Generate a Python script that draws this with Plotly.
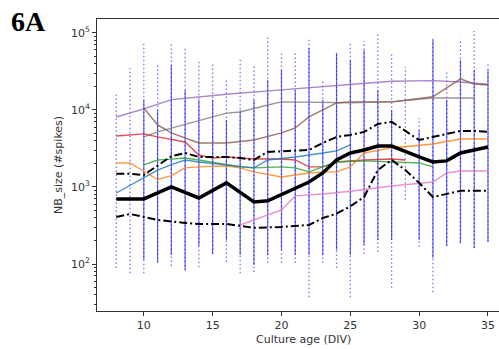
import plotly.graph_objects as go

# ---------------- data ----------------
divs = list(range(8, 36))
# per-DIV extent of the individual burst sizes (max / min) and of the dense part
col_top = [15700, 35100, 76400, 40800, 71900, 65800, 43300, 39600, 26100, 47300,
           38400, 94000, 55000, 58400, 86000, 24500, 55000, 76400, 78700, 103000,
           55000, 36100, 7870, 83600, 31200, 83600, 106000, 39600]
col_bottom = [89, 76, 76, 103, 94, 83, 91, 135, 106, 76,
              79, 103, 103, 103, 37, 103, 89, 37, 135, 143,
              49, 680, 166, 43, 171, 187, 161, 193]
dense_top = [None, None, 13500, 10000, 38400, 18200, 13500, 13500, 7420, 10000,
             13500, 24500, 33100, 18200, 63800, 13500, 55000, 44600, 60100, 18200,
             10000, None, 5500, 81000, 13500, 44600, 33100, 33100]
dense_bottom = [None, None, 113, 106, 131, 83, 171, 135, 205, 131,
                97, 131, 152, 131, 131, 131, 152, 131, 177, 205,
                205, None, 205, 120, 171, 187, 161, 193]

purple_x = [8, 10, 12, 16, 20, 25, 28, 31, 33, 35]
purple_y = [8100, 10300, 13600, 16000, 18200, 21100, 23500, 24000, 23000, 21500]
gray_x = [10, 11, 16, 17, 19, 20, 25, 28, 31, 34]
gray_y = [4460, 5180, 9100, 9400, 11600, 12700, 12400, 12700, 14300, 14300]
brown_x = [10, 11, 12, 14, 16, 18, 20, 21, 22, 24, 25, 28, 31, 33, 34, 35]
brown_y = [10600, 6400, 5030, 3720, 3720, 4070, 5030, 5830, 8100, 12300, 12700,
           12700, 14800, 25300, 21700, 21100]
red_x = [8, 10, 11, 13, 14, 15, 16, 18, 20, 21, 22, 23, 24, 26, 28, 29]
red_y = [4590, 4880, 4460, 3840, 2600, 2380, 2450, 2310, 2310, 2240, 1820, 1820,
         2110, 2240, 2310, 2240]
orange_x = [8, 9, 10, 11, 12, 13, 14, 16, 17, 18, 20, 21, 22, 23, 24, 25, 26, 28, 31, 33, 35]
orange_y = [2050, 2050, 1600, 1250, 1400, 1770, 1820, 1870, 1770, 1570, 1350, 1430,
            1520, 1570, 1570, 1820, 2760, 3210, 3610, 4200, 4200]
green_x = [10, 11, 12, 13, 14, 16, 17, 18, 20, 21, 22, 23, 24, 26, 28, 30, 31]
green_y = [1930, 2240, 2300, 2380, 2240, 1930, 1820, 1770, 1820, 1770, 1570, 1820,
           2110, 2180, 2110, 2050, 1820]
blue_x = [8, 9, 10, 11, 12, 13, 14, 16, 17, 18, 19, 21, 23, 24, 25]
blue_y = [835, 1040, 1300, 1650, 1950, 2240, 2110, 1930, 1820, 1770, 2240, 2450,
          2760, 2940, 3510]
pink_x = [17, 20, 21, 23, 25, 28, 31, 32, 33, 35]
pink_y = [321, 503, 765, 810, 880, 1030, 1160, 1520, 1610, 1610]

med_x = [8, 10, 12, 14, 16, 17, 18, 19, 20, 21, 22, 23, 24, 25, 26, 27, 28, 30, 31, 32, 33, 35]
med_y = [700, 700, 1000, 720, 1130, 850, 640, 660, 800, 970, 1160, 1520, 2240, 2760,
         3020, 3400, 3400, 2450, 2110, 2180, 2760, 3300]
upper_x = [8, 9, 10, 12, 13, 14, 16, 17, 18, 19, 20, 22, 23, 24, 25, 26, 27, 28, 30,
           31, 32, 33, 34, 35]
upper_y = [1480, 1480, 1430, 2500, 2760, 2450, 2450, 2380, 2240, 2850, 2900, 3020,
           3720, 4460, 4730, 5180, 6580, 7000, 4070, 4460, 4880, 5330, 5330, 5180]
lower_x = [8, 9, 10, 11, 13, 14, 16, 17, 18, 20, 21, 22, 23, 24, 25, 26, 27, 28, 29,
           30, 31, 32, 33, 34, 35]
lower_y = [408, 446, 408, 373, 341, 331, 331, 312, 295, 303, 312, 321, 395, 450, 560,
           740, 1660, 2240, 1660, 1130, 740, 810, 890, 890, 890]

x_ticks = [10, 15, 20, 25, 30, 35]
y_ticks = [100, 1000, 10000, 100000]
y_ticktext = ["10<sup>2</sup>", "10<sup>3</sup>", "10<sup>4</sup>", "10<sup>5</sup>"]

# ---------------- figure ----------------
fig = go.Figure()

fx, fy, dx, dy = [], [], [], []
for d, t, b, dt, db in zip(divs, col_top, col_bottom, dense_top, dense_bottom):
    fx += [d, d, None]
    fy += [b, t, None]
    if dt is not None:
        dx += [d, d, None]
        dy += [db, dt, None]

fig.add_trace(go.Scatter(x=fx, y=fy, mode="lines", hoverinfo="skip",
                         line=dict(color="rgba(30,30,255,0.6)", width=1.3, dash="1.5px,2.5px")))
fig.add_trace(go.Scatter(x=dx, y=dy, mode="lines", hoverinfo="skip",
                         line=dict(color="rgba(0,0,255,0.6)", width=1.2)))

colored = [
    (purple_x, purple_y, "#9467bd"),
    (gray_x, gray_y, "#7f7f7f"),
    (brown_x, brown_y, "#8c564b"),
    (red_x, red_y, "#d62728"),
    (orange_x, orange_y, "#ff7f0e"),
    (green_x, green_y, "#2ca02c"),
    (blue_x, blue_y, "#1f77b4"),
    (pink_x, pink_y, "#e377c2"),
]
for xs, ys, c in colored:
    fig.add_trace(go.Scatter(x=xs, y=ys, mode="lines", opacity=0.8,
                             line=dict(color=c, width=1.4)))

dashdot = "8px,3px,2px,3px"
fig.add_trace(go.Scatter(x=upper_x, y=upper_y, mode="lines",
                         line=dict(color="black", width=2, dash=dashdot)))
fig.add_trace(go.Scatter(x=lower_x, y=lower_y, mode="lines",
                         line=dict(color="black", width=2, dash=dashdot)))
fig.add_trace(go.Scatter(x=med_x, y=med_y, mode="lines",
                         line=dict(color="black", width=3.5)))

minor_vals = [m * 10 ** k for k in range(1, 6) for m in range(2, 10)]

fig.update_layout(
    width=499, height=349,
    margin=dict(l=97, r=0, t=19, b=38),
    paper_bgcolor="white", plot_bgcolor="white",
    showlegend=False,
    font=dict(family="DejaVu Sans", size=11, color="#333"),
    xaxis=dict(range=[6.6, 35.8], tickvals=x_ticks, ticks="outside", ticklen=4,
               tickcolor="#333", showline=True, linecolor="#333", linewidth=1,
               mirror=True, showgrid=False, zeroline=False),
    yaxis=dict(type="log", range=[1.39, 5.18], tickvals=y_ticks, ticktext=y_ticktext,
               ticks="outside", ticklen=4, tickcolor="#333", showline=True,
               linecolor="#333", linewidth=1, showgrid=False, zeroline=False,
               minor=dict(tickvals=minor_vals, ticks="outside", ticklen=2,
                          tickcolor="#333", showgrid=False)),
    annotations=[
        dict(text="Culture age (DIV)", x=(303 - 97) / 402, y=-(339 - 311) / 292,
             xref="paper", yref="paper", showarrow=False, xanchor="center",
             yanchor="middle", font=dict(size=11, color="#333")),
        dict(text="NB_size (#spikes)", x=(58 - 97) / 402, y=0.5, textangle=-90,
             xref="paper", yref="paper", showarrow=False, xanchor="center",
             yanchor="middle", font=dict(size=11, color="#333")),
        dict(text="<b>6A</b>", x=(28 - 97) / 402, y=(311 - 21) / 292,
             xref="paper", yref="paper", showarrow=False, xanchor="center",
             yanchor="middle", font=dict(family="Liberation Serif", size=28, color="black")),
    ],
)

fig.write_html("out.html")
